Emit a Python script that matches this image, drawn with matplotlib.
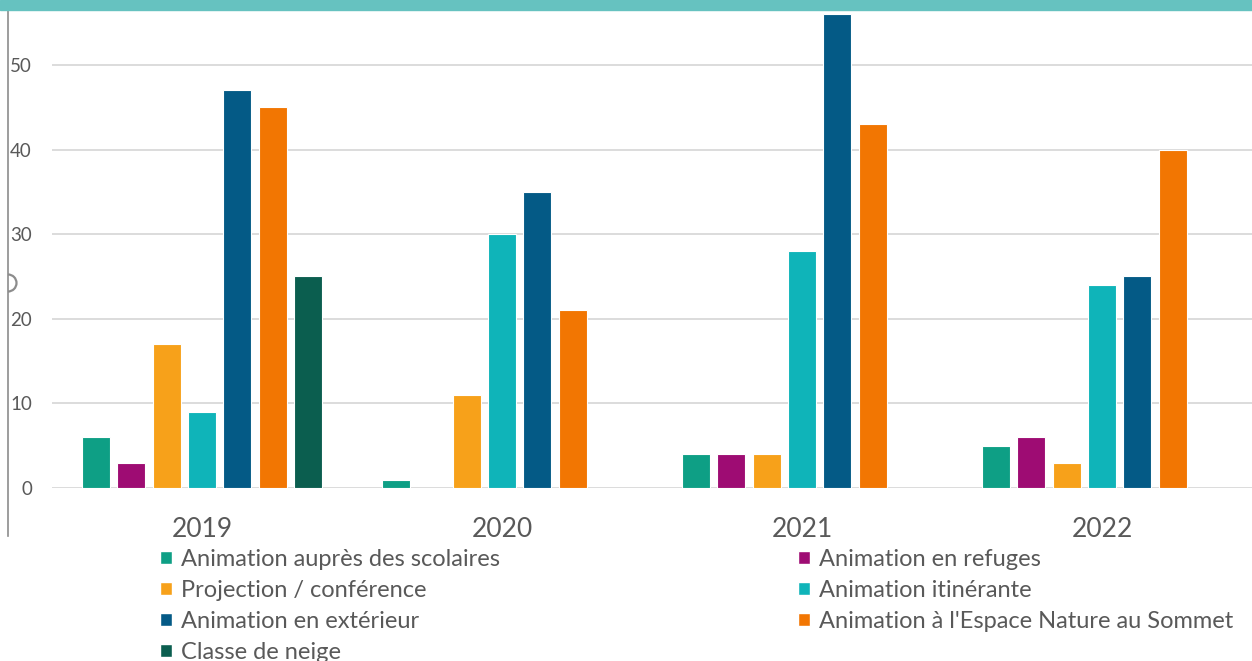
import matplotlib
matplotlib.use("Agg")
import matplotlib.pyplot as plt
import numpy as np
from matplotlib.patches import Rectangle, Arc, Patch
from matplotlib.lines import Line2D

plt.rcParams['font.family'] = ['Lato', 'DejaVu Sans']

years = ["2019", "2020", "2021", "2022"]
series = [
    "Animation auprès des scolaires",
    "Animation en refuges",
    "Projection / conférence",
    "Animation itinérante",
    "Animation en extérieur",
    "Animation à l'Espace Nature au Sommet",
    "Classe de neige",
]
scolaires = [6, 1, 4, 5]
refuges = [3, 0, 4, 6]
projection = [17, 11, 4, 3]
itinerante = [9, 30, 28, 24]
exterieur = [47, 35, 56, 25]
espace = [45, 21, 43, 40]
classe = [25, 0, 0, 0]
values = [scolaires, refuges, projection, itinerante, exterieur, espace, classe]
colors = ["#0E9F85", "#9E0C73", "#F7A11A", "#0FB4B9", "#045A86", "#F27602", "#0B5E4F"]
yticks = [0, 10, 20, 30, 40, 50]

W, H = 1252, 661
fig = plt.figure(figsize=(W / 100, H / 100), dpi=100)
fig.patch.set_facecolor("white")

def fx(px):
    return px / W

def fy(py):
    return 1 - py / H

ax = fig.add_axes([fx(52), fy(488), fx(1200), (488 - 10) / H])
ax.set_xlim(-0.5, 3.5)
ax.set_ylim(0, 56.5)

x = np.arange(len(years))
step = 0.1178
bw = 0.093
for i, (vals, c) in enumerate(zip(values, colors)):
    lws = [0.8 if v > 0 else 0 for v in vals]
    ax.bar(x + (i - 3) * step, vals, width=bw, color=c, edgecolor="#ffffff",
           linewidth=lws, zorder=3)

for s in ax.spines.values():
    s.set_visible(False)
ax.set_yticks(yticks)
ax.yaxis.grid(True, color="#D9D9D9", linewidth=1.3, zorder=0)
ax.set_axisbelow(True)
ax.tick_params(axis="y", length=0, pad=14.4, labelsize=13.5, labelcolor="#595959")
ax.set_xticks(x)
ax.set_xticklabels(years)
ax.tick_params(axis="x", length=0, pad=21, labelsize=19, labelcolor="#595959")

# top band and left border
fig.patches.append(Rectangle((0, fy(10)), 1, 10 / H, transform=fig.transFigure,
                             color="#66C2C0", zorder=10))
fig.lines.append(Line2D([fx(8), fx(8)], [fy(10), fy(536)], transform=fig.transFigure,
                        color="#8C8C8C", linewidth=1.2))
fig.patches.append(Arc((fx(8), fy(283)), 17 / W, 17 / H, theta1=-90, theta2=90,
                       transform=fig.transFigure, edgecolor="#8C8C8C", linewidth=1.6))

order1 = [0, 2, 4, 6]
order2 = [1, 3, 5]
common = dict(frameon=False, fontsize=17, handlelength=0.5, handleheight=0.5,
              handletextpad=0.38, labelspacing=0.42, borderpad=0, borderaxespad=0,
              labelcolor="#595959")
h1 = [Patch(facecolor=colors[i], edgecolor="white", label=series[i]) for i in order1]
h2 = [Patch(facecolor=colors[i], edgecolor="white", label=series[i]) for i in order2]
leg1 = fig.legend(handles=h1, loc="upper left", bbox_to_anchor=(fx(160), fy(549)), **common)
leg2 = fig.legend(handles=h2, loc="upper left", bbox_to_anchor=(fx(798), fy(549)), **common)

fig.savefig("out.png", dpi=100)
